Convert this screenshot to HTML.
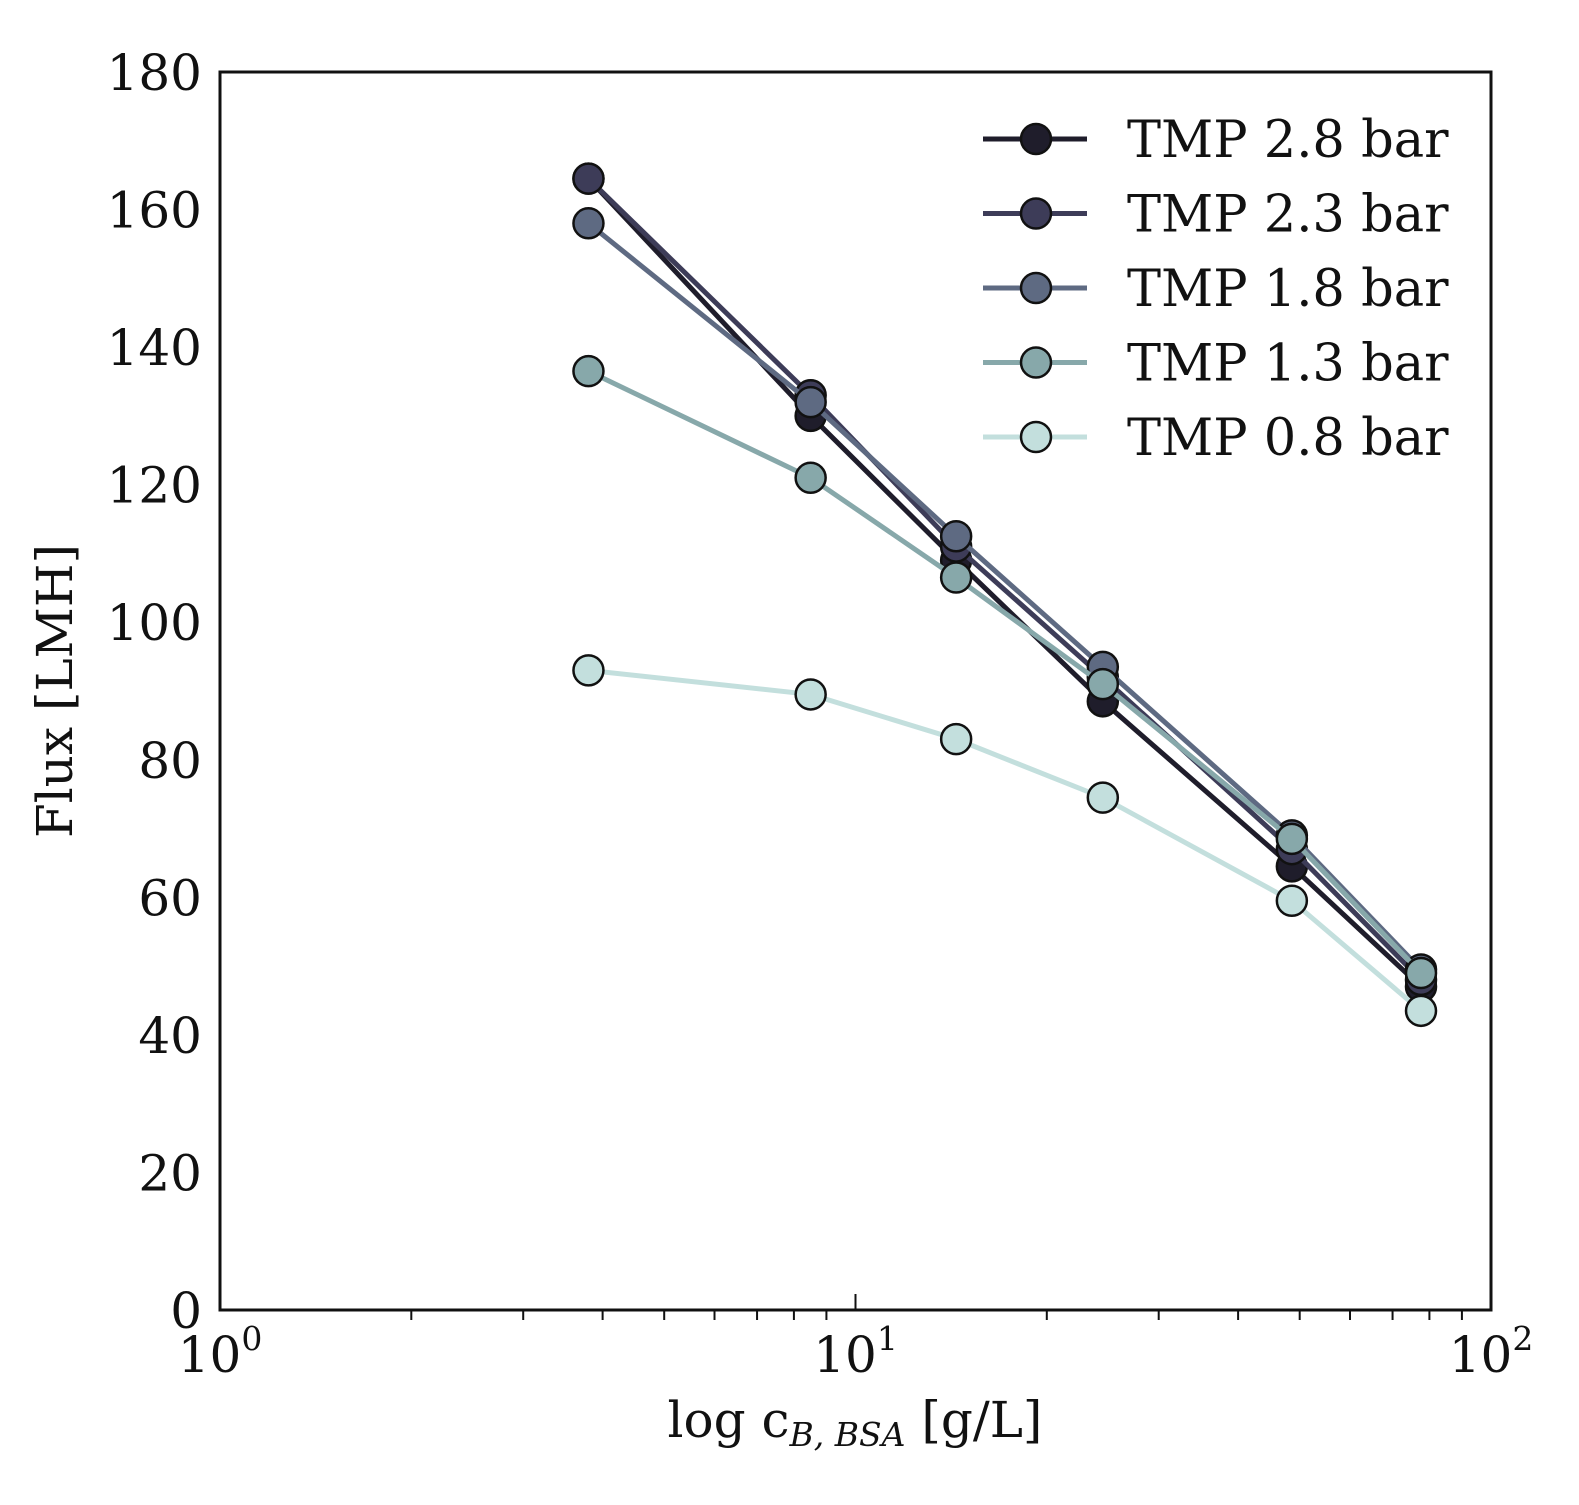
<!DOCTYPE html>
<html><head><meta charset="utf-8"><style>
html,body{margin:0;padding:0;background:#fff;}
svg text{font-family:"DejaVu Serif","Liberation Serif",serif;fill:#111;}
</style></head><body>
<svg id="chart" width="1579" height="1500" viewBox="0 0 1579 1500">
<g id="grid"></g>
<g id="series"></g>
<rect x="220" y="72" width="1271" height="1238" fill="none" stroke="#111" stroke-width="3"/>
<g id="axes"></g>
<text x="72" y="691" font-size="50" text-anchor="middle" transform="rotate(-90 72 691)">Flux [LMH]</text>
<text x="855" y="1437" font-size="50" text-anchor="middle">log c<tspan font-style="italic" font-size="33" dy="9">B, BSA</tspan><tspan dy="-9"> [g/L]</tspan></text>
<g id="legend"></g>
</svg>
<script>
const xValues = [3.8, 8.5, 14.4, 24.5, 48.6, 77.6];
const seriesNames = ["TMP 2.8 bar","TMP 2.3 bar","TMP 1.8 bar","TMP 1.3 bar","TMP 0.8 bar"];
const tmp28 = [164.5, 130, 109, 88.5, 64.5, 47];
const tmp23 = [164.5, 133, 111, 92, 67, 48];
const tmp18 = [158, 132, 112.5, 93.5, 69, 49.5];
const tmp13 = [136.5, 121, 106.5, 91, 68.5, 49];
const tmp08 = [93, 89.5, 83, 74.5, 59.5, 43.5];
const yTicks = [0,20,40,60,80,100,120,140,160,180];
const xMajor = [1,10,100];
const xMajorLabels = ["0","1","2"];

const NS="http://www.w3.org/2000/svg";
const L=220,R=1491,T=72,B=1310;
const xs=v=>L+(Math.log10(v)-0)/2*(R-L);
const ys=v=>B-v/180*(B-T);
function mk(tag,attrs,parent){const e=document.createElementNS(NS,tag);for(const k in attrs)e.setAttribute(k,attrs[k]);parent.appendChild(e);return e;}
const axes=document.getElementById('axes');
yTicks.forEach(t=>{
  const e=mk('text',{x:L-18,y:ys(t)+18,'font-size':50,'text-anchor':'end'},axes);
  
  
  e.textContent=t;
});
xMajor.forEach((v,i)=>{
  const t=mk('text',{x:xs(v),y:1372,'font-size':50,'text-anchor':'middle'},axes);
  
  
  t.innerHTML='10<tspan font-size="33" dy="-22">'+xMajorLabels[i]+'</tspan>';
  const l=mk('line',{x1:xs(v),x2:xs(v),y1:B,y2:B-16,stroke:'#111','stroke-width':2},axes);
  
  
});
[2,3,4,5,6,7,8,9,20,30,40,50,60,70,80,90].forEach(v=>{
  const l=mk('line',{x1:xs(v),x2:xs(v),y1:B,y2:B+10,stroke:'#111','stroke-width':2},axes);
  
  
});
const data=[tmp28,tmp23,tmp18,tmp13,tmp08];
const colors=["#1f1d2b","#3d3c58","#5e6a82","#87a8aa","#c3dfdd"];
const sg=document.getElementById('series');
for(let s=0;s<data.length;s++){
  const g=mk('g',{},sg);
  
  
  const p=mk('polyline',{points:data[s].map((v,i)=>xs(xValues[i])+','+ys(v)).join(' '),fill:'none',stroke:colors[s],'stroke-width':5},g);
  
  
  data[s].forEach((v,i)=>{
    const c=mk('circle',{cx:xs(xValues[i]),cy:ys(v),r:15,fill:colors[s],stroke:'#111','stroke-width':2.5},g);
    
    
  });
}
const lg=document.getElementById('legend');
seriesNames.forEach((n,i)=>{
  const y=139+i*74.5;
  const g=mk('g',{},lg);
  
  
  mk('line',{x1:983,x2:1087,y1:y,y2:y,stroke:colors[i],'stroke-width':5},g);
  mk('circle',{cx:1036,cy:y,r:15,fill:colors[i],stroke:'#111','stroke-width':2.5},g);
  const t=mk('text',{x:1127,y:y+18,'font-size':51},g);
  t.textContent=n;
});
</script>
</body></html>
